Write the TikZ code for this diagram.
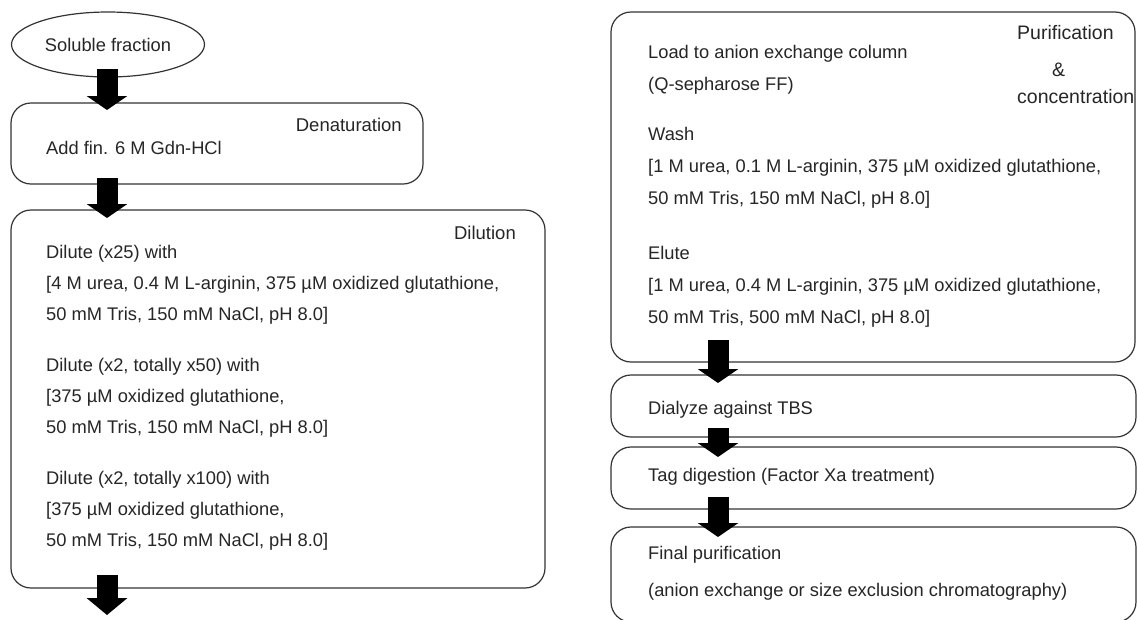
\documentclass[tikz,border=0pt]{standalone}
\usepackage{fontspec}
\setmainfont{Liberation Sans}
\usetikzlibrary{arrows.meta, positioning, shapes.geometric}

\begin{document}
\begin{tikzpicture}[
    x=1pt, y=-1pt,
    box/.style={draw=black!80, line width=1.2pt, rounded corners=20pt,
                anchor=north west, inner sep=0pt, outer sep=0pt},
    ell/.style={draw=black!80, line width=1.2pt, ellipse, inner sep=0pt,
                outer sep=0pt, font=\fontsize{18.3}{22}\selectfont},
    txt/.style={anchor=base west, align=left, inner sep=0pt, text=black!85,
                font=\fontsize{18.3}{31}\selectfont},
    rtxt/.style={txt, font=\fontsize{18.3}{32.2}\selectfont},
    lbl/.style={anchor=base east, inner sep=0pt, text=black!85,
                font=\fontsize{18.5}{22}\selectfont},
    blk/.style={line width=21pt, -{Triangle[width=40pt, length=14pt]}}
  ]
  \useasboundingbox (0,0) rectangle (1137,619);
  \fill[white] (0,0) rectangle (1137,619);
  \clip (0,0) rectangle (1137,619);

  % left column (multi-line texts sit on their last baseline)
  \node[ell, minimum width=193pt, minimum height=65pt, text=black!85] (sol) at (108,44.5) {Soluble fraction};

  \node[box, minimum width=412pt, minimum height=81pt] (den) at (11,103) {};
  \node[lbl] (denlbl) at ([shift={(-21,28.5)}]den.north east) {Denaturation};
  \node[txt] (dentxt) at ([shift={(35,51.5)}]den.north west) {Add fin. 6 M Gdn-HCl};

  \node[box, minimum width=534pt, minimum height=378pt] (dil) at (11,210) {};
  \node[lbl] (dillbl) at ([shift={(-29,29.5)}]dil.north east) {Dilution};
  \node[txt] (diltxt) at ([shift={(35,336.5)}]dil.north west) {Dilute (x25) with\\
    {[}4 M urea, 0.4 M L-arginin, 375 µM oxidized glutathione,\\
    50 mM Tris, 150 mM NaCl, pH 8.0]\\[20pt]
    Dilute (x2, totally x50) with\\
    {[}375 µM oxidized glutathione,\\
    50 mM Tris, 150 mM NaCl, pH 8.0]\\[20pt]
    Dilute (x2, totally x100) with\\
    {[}375 µM oxidized glutathione,\\
    50 mM Tris, 150 mM NaCl, pH 8.0]};

  % right column
  \node[box, minimum width=524pt, minimum height=350pt] (pur) at (611,12) {};
  \node[lbl, anchor=base west, align=left, font=\fontsize{19.5}{32}\selectfont] (purlbl)
    at ([shift={(406,91.5)}]pur.north west) {Purification\\[5pt]
    \hspace{35pt}\&\\[-5pt]
    concentration};
  \node[rtxt] (purtxt) at ([shift={(37,311.5)}]pur.north west) {Load to anion exchange column\\
    (Q-sepharose FF)\\[18pt]
    Wash\\
    {[}1 M urea, 0.1 M L-arginin, 375 µM oxidized glutathione,\\
    50 mM Tris, 150 mM NaCl, pH 8.0]\\[22pt]
    Elute\\
    {[}1 M urea, 0.4 M L-arginin, 375 µM oxidized glutathione,\\
    50 mM Tris, 500 mM NaCl, pH 8.0]};

  \node[box, minimum width=525pt, minimum height=62pt] (dia) at (611,375) {};
  \node[rtxt] (diatxt) at ([shift={(37,39)}]dia.north west) {Dialyze against TBS};

  \node[box, minimum width=525pt, minimum height=62pt] (tag) at (611,447) {};
  \node[rtxt] (tagtxt) at ([shift={(37,34.5)}]tag.north west) {Tag digestion (Factor Xa treatment)};

  \node[box, minimum width=525pt, minimum height=95pt] (fin) at (611,527) {};
  \node[rtxt] (fintxt) at ([shift={(37,69.5)}]fin.north west) {Final purification\\[5pt]
    (anion exchange or size exclusion chromatography)};

  % block arrows
  \coordinate (lc) at (107,0);
  \coordinate (rc) at (718,0);
  \coordinate (lend) at (107,615);
  \draw[blk, shorten <=-8pt, shorten >=-7pt] (sol.south -| lc) -- (den.north -| lc);
  \draw[blk, shorten <=-6pt, shorten >=-8pt] (den.south -| lc) -- (dil.north -| lc);
  \draw[blk, shorten <=-13pt, -{Triangle[width=40pt, length=17pt]}] (dil.south -| lc) -- (lend);
  \draw[blk, shorten <=-22pt, shorten >=-8pt] (pur.south -| rc) -- (dia.north -| rc);
  \draw[blk, shorten <=-9pt, shorten >=-10pt] (dia.south -| rc) -- (tag.north -| rc);
  \draw[blk, shorten <=-12pt, shorten >=-10pt] (tag.south -| rc) -- (fin.north -| rc);
\end{tikzpicture}
\end{document}
